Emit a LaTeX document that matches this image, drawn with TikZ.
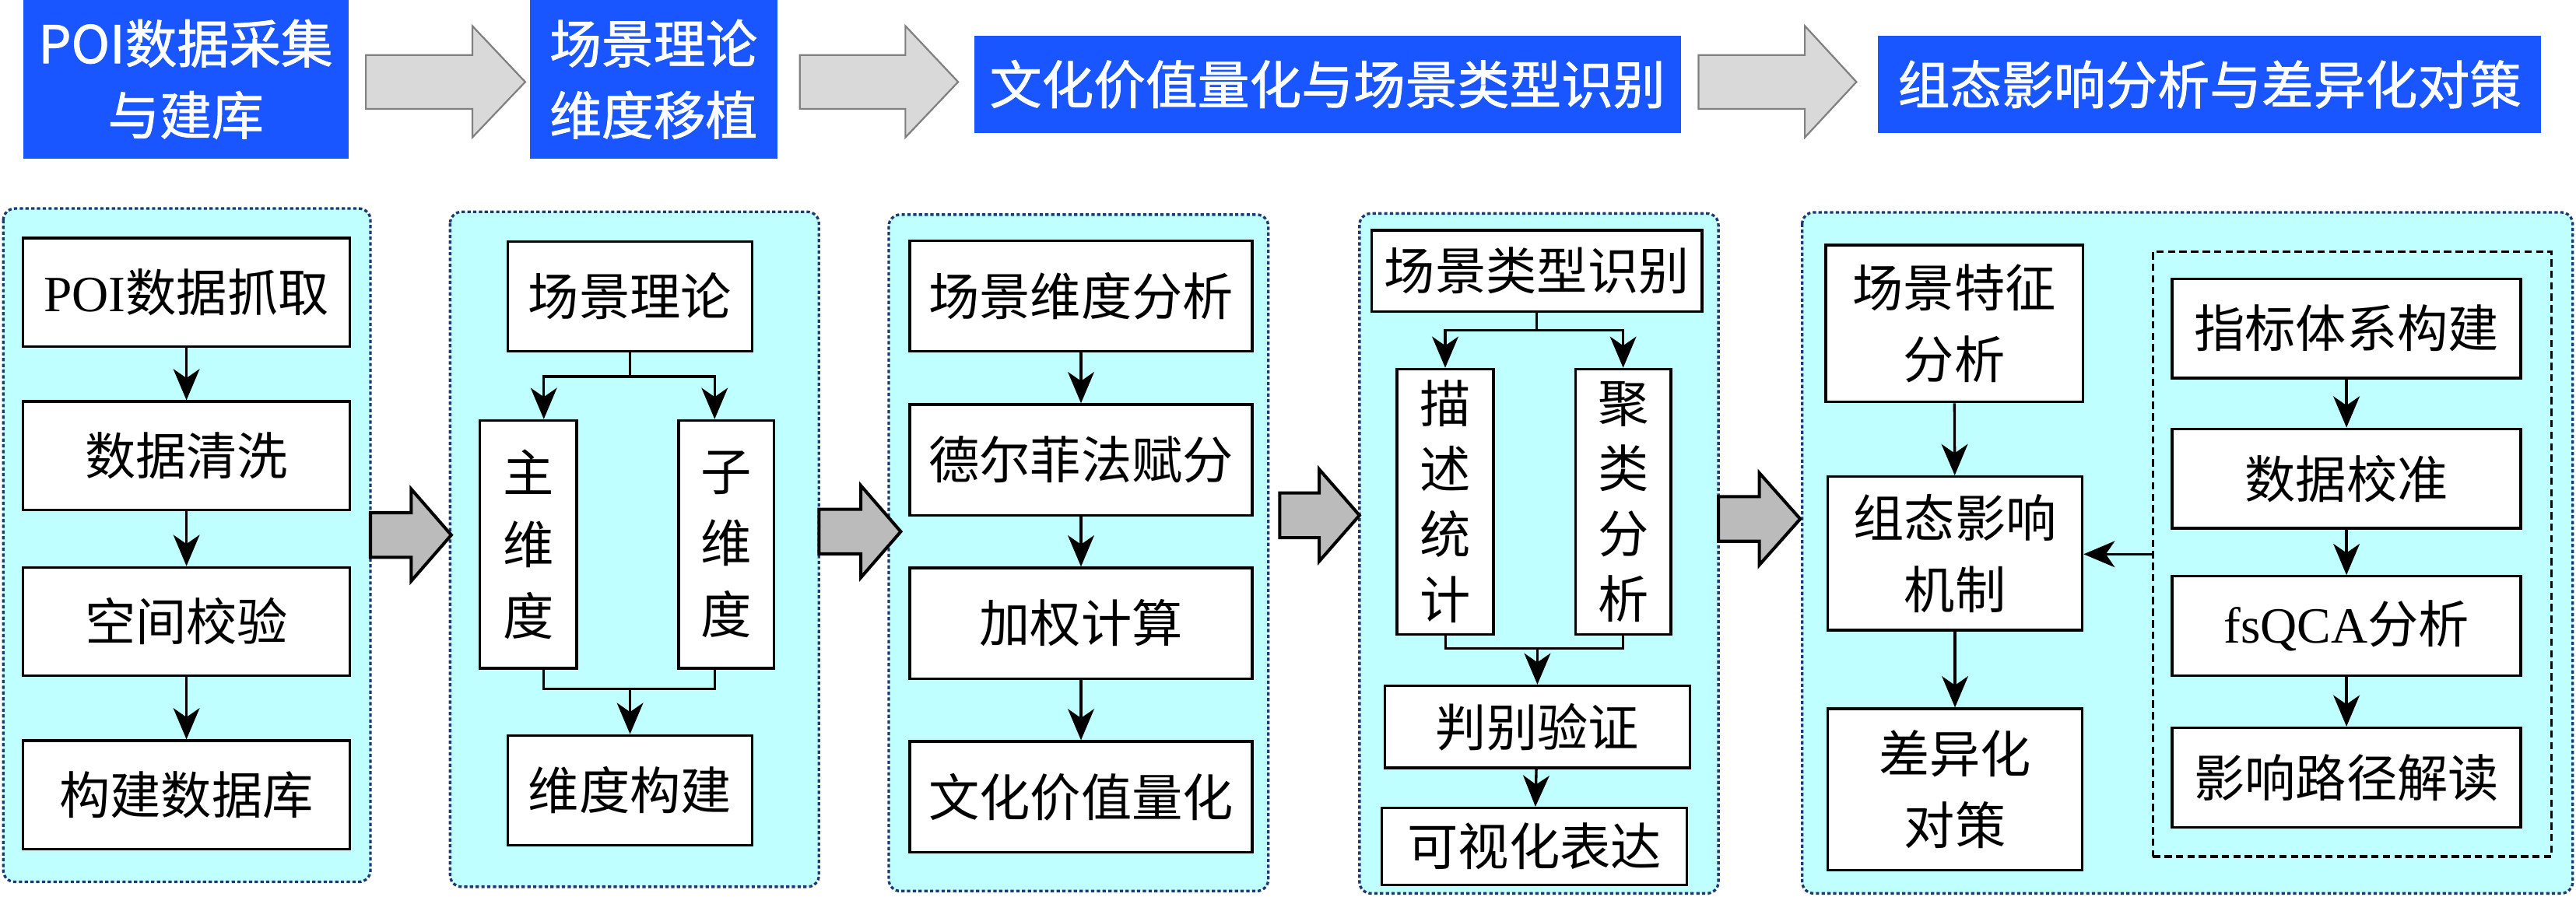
\documentclass[tikz,border=0pt]{standalone}
\usepackage{fontspec}
\setmainfont{Liberation Serif}
\newfontfamily\cjk{Noto Sans CJK SC}
\newfontfamily\cjkhead[FakeBold=1.2]{Noto Sans CJK SC}
\usetikzlibrary{arrows.meta}
\definecolor{hdrblue}{RGB}{26,86,255}
\definecolor{panelcyan}{RGB}{192,255,255}
\definecolor{panelnavy}{RGB}{31,56,110}
\begin{document}
\begin{tikzpicture}[x=0.1mm,y=-0.1mm,
    hdr/.style={fill=hdrblue,text=white,font=\cjkhead\fontsize{9}{12.4}\selectfont,align=center,inner sep=0pt},
    panel/.style={fill=panelcyan,draw=panelnavy,line width=0.45pt,dash pattern=on 0.2mm off 0.15mm,rounded corners=0.7mm},
    box/.style={draw,fill=white,line width=0.45pt,font=\cjk\fontsize{8.8}{12.4}\selectfont,align=center,inner sep=0pt},
    grp/.style={draw,line width=0.45pt,dash pattern=on 0.45mm off 0.25mm,inner sep=0pt},
    flow/.style={-{Stealth[length=1.9mm,width=1.6mm,inset=0.55mm]},line width=0.45pt},
    hdrarrow/.style={fill=gray!30,draw=gray,line width=0.3pt},
    bigarrow/.style={fill=gray!53,draw=black,line width=0.55pt,line join=miter}]
      \useasboundingbox (0,0) rectangle (1568,546);

      \node[hdr,minimum width=19.8mm,minimum height=9.65mm] (h1) at (113,48.25) {POI数据采集\\与建库};
      \node[hdr,minimum width=15.08mm,minimum height=9.65mm] (h2) at (397.8,48.25) {场景理论\\维度移植};
      \node[hdr,minimum width=43mm,minimum height=5.9mm] (h3) at (808,51.3) {文化价值量化与场景类型识别};
      \node[hdr,minimum width=40.34mm,minimum height=5.92mm] (h4) at (1345,51.4) {组态影响分析与差异化对策};

      \draw[hdrarrow] (222.7,33.5)--(287.5,33.5)--(287.5,15.8)--(319.7,49.9)--(287.5,83.7)--(287.5,66.3)--(222.7,66.3)--cycle;
      \draw[hdrarrow] (486.9,33.5)--(551.1,33.5)--(551.1,15.8)--(583.2,49.9)--(551.1,83.7)--(551.1,66.3)--(486.9,66.3)--cycle;
      \draw[hdrarrow] (1033.9,33.5)--(1098.6,33.5)--(1098.6,15.8)--(1130,49.9)--(1098.6,83.7)--(1098.6,66.3)--(1033.9,66.3)--cycle;

      \draw[panel] (2,127) rectangle (225.5,537);
      \draw[panel] (274,129) rectangle (498.5,540);
      \draw[panel] (541,130.7) rectangle (772,542.6);
      \draw[panel] (827.5,130) rectangle (1046,544);
      \draw[panel] (1097,129.3) rectangle (1566,544);

      \draw[bigarrow] (225.5,312.2)--(250.3,312.2)--(250.3,297.8)--(274.7,325.8)--(250.3,353.8)--(250.3,339.4)--(225.5,339.4)--cycle;
      \draw[bigarrow] (498.5,310.1)--(524,310.1)--(524,295.7)--(548.3,323.7)--(524,351.7)--(524,337.3)--(498.5,337.3)--cycle;
      \draw[bigarrow] (779,300.2)--(803,300.2)--(803,285.8)--(827.5,313.8)--(803,341.8)--(803,327.4)--(779,327.4)--cycle;
      \draw[bigarrow] (1046,302.4)--(1070.9,302.4)--(1070.9,288)--(1095.8,316)--(1070.9,344)--(1070.9,329.6)--(1046,329.6)--cycle;

      \node[box,minimum width=19.9mm,minimum height=6.6mm] (poi) at (113.5,178) {{\rmfamily POI}数据抓取};
      \node[box,minimum width=19.9mm,minimum height=6.6mm] (clean) at (113.5,277.5) {数据清洗};
      \node[box,minimum width=19.9mm,minimum height=6.6mm] (check) at (113.5,378.5) {空间校验};
      \node[box,minimum width=19.9mm,minimum height=6.6mm] (db) at (113.5,484) {构建数据库};
      \draw[flow] (poi)--(clean);
      \draw[flow] (clean)--(check);
      \draw[flow] (check)--(db);

      \node[box,minimum width=14.9mm,minimum height=6.7mm] (theory) at (383.5,180.5) {场景理论};
      \node[box,minimum width=5.9mm,minimum height=15.1mm] (main) at (321.5,331.5) {主\\维\\度};
      \node[box,minimum width=5.8mm,minimum height=15.1mm] (sub) at (442,331.5) {子\\维\\度};
      \node[box,minimum width=14.9mm,minimum height=6.7mm] (dimb) at (383.5,481.3) {维度构建};
      \draw (theory.south)--++(0,14.5) coordinate (t2);
      \draw[flow] (t2)-|([xshift=0.95mm]main.north);
      \draw[flow] (t2)-|([xshift=-0.7mm]sub.north);
      \draw ([xshift=0.95mm]main.south)--++(0,11.5) coordinate (m2)-|([xshift=-0.7mm]sub.south);
      \draw[flow] (m2-|dimb.north)--(dimb.north);

      \node[box,minimum width=20.85mm,minimum height=6.74mm] (dim) at (658,180.2) {场景维度分析};
      \node[box,minimum width=20.85mm,minimum height=6.74mm] (delphi) at (658,280) {德尔菲法赋分};
      \node[box,minimum width=20.85mm,minimum height=6.74mm] (weight) at (658,379.5) {加权计算};
      \node[box,minimum width=20.85mm,minimum height=6.74mm] (value) at (658,485.2) {文化价值量化};
      \draw[flow] (dim)--(delphi);
      \draw[flow] (delphi)--(weight);
      \draw[flow] (weight)--(value);

      \node[box,minimum width=20.1mm,minimum height=4.97mm] (ident) at (935.5,165) {场景类型识别};
      \node[box,minimum width=5.87mm,minimum height=16.15mm,font=\cjk\fontsize{8.8}{11.3}\selectfont] (desc) at (879.7,305.5) {描\\述\\统\\计};
      \node[box,minimum width=5.8mm,minimum height=16.15mm,font=\cjk\fontsize{8.8}{11.3}\selectfont] (clus) at (988,305.5) {聚\\类\\分\\析};
      \node[box,minimum width=18.57mm,minimum height=5mm] (verify) at (935.8,442.6) {判别验证};
      \node[box,minimum width=18.57mm,minimum height=4.7mm] (visual) at (934,515.5) {可视化表达};
      \draw (ident.south)--++(0,10.5) coordinate (t4);
      \draw[flow] (t4)-|(desc.north);
      \draw[flow] (t4)-|(clus.north);
      \draw (desc.south)--++(0,8) coordinate (m4)-|(clus.south);
      \draw[flow] (m4-|verify.north)--(verify.north);
      \draw[flow] (verify)--(visual);

      \node[box,minimum width=15.65mm,minimum height=9.55mm] (feat) at (1189.5,197) {场景特征\\分析};
      \node[box,minimum width=15.5mm,minimum height=9.35mm] (mech) at (1190,337) {组态影响\\机制};
      \node[box,minimum width=15.5mm,minimum height=9.83mm] (policy) at (1190,480.7) {差异化\\对策};
      \draw[flow] (feat)--(mech);
      \draw[flow] (mech)--(policy);

      \node[grp,minimum width=24.27mm,minimum height=36.83mm] (grp) at (1431.75,337.45) {};
      \node[box,minimum width=21.22mm,minimum height=6.05mm] (index) at (1428.3,200) {指标体系构建};
      \node[box,minimum width=21.22mm,minimum height=6.05mm] (calib) at (1428.3,291.4) {数据校准};
      \node[box,minimum width=21.22mm,minimum height=6.05mm] (qca) at (1428.3,381.2) {{\rmfamily fsQCA}分析};
      \node[box,minimum width=21.22mm,minimum height=6.05mm] (path) at (1428.3,473.4) {影响路径解读};
      \draw[flow] (index)--(calib);
      \draw[flow] (calib)--(qca);
      \draw[flow] (qca)--(path);
      \draw[flow] (grp.west)--(grp.west-|mech.east);
    \end{tikzpicture}
\end{document}
